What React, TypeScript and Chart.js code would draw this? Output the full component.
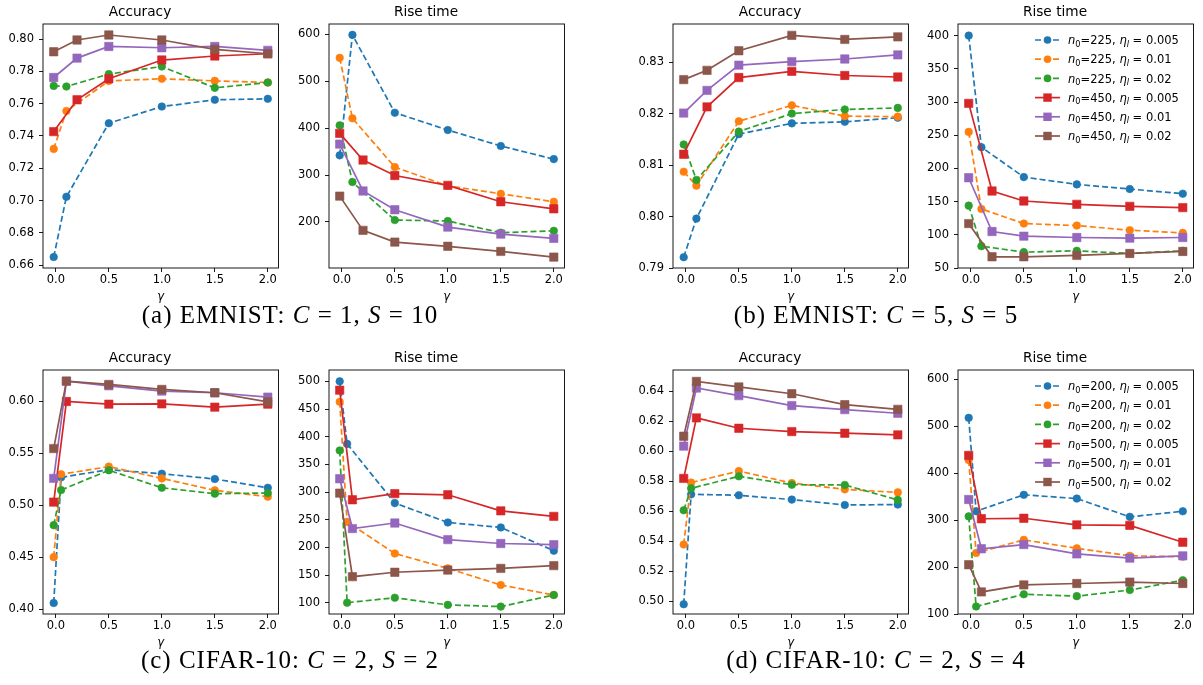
import React, { useEffect, useRef } from "react";
import { Chart, registerables } from "chart.js";
Chart.register(...registerables);

const FONT = "'DejaVu Sans', sans-serif";
const COLORS = ["#1f77b4", "#ff7f0e", "#2ca02c", "#d62728", "#9467bd", "#8c564b"];
const ETA_L = ["0.005", "0.01", "0.02", "0.005", "0.01", "0.02"];
const N0_EMNIST = [225, 225, 225, 450, 450, 450];
const N0_CIFAR = [200, 200, 200, 500, 500, 500];

// gamma values (x positions) for n0 small (circles) and n0 large (squares)
const GAMMA_EMNIST_SMALL = [-0.02, 0.1, 0.5, 1.0, 1.5, 2.0];
const GAMMA_EMNIST_LARGE = [-0.02, 0.2, 0.5, 1.0, 1.5, 2.0];
const GAMMA_CIFAR_SMALL = [-0.02, 0.05, 0.5, 1.0, 1.5, 2.0];
const GAMMA_CIFAR_LARGE = [-0.02, 0.1, 0.5, 1.0, 1.5, 2.0];
const X_TICKS = [0, 0.5, 1.0, 1.5, 2.0];

// (a) EMNIST C=1, S=10
const A_ACC = [
  [0.6651, 0.7024, 0.7479, 0.7582, 0.7624, 0.763],
  [0.732, 0.7555, 0.7741, 0.7754, 0.7741, 0.7731],
  [0.771, 0.7706, 0.7783, 0.783, 0.7698, 0.7731],
  [0.7427, 0.7624, 0.7754, 0.787, 0.7895, 0.7909],
  [0.7762, 0.7882, 0.7954, 0.7946, 0.7954, 0.793],
  [0.7921, 0.7994, 0.8025, 0.7994, 0.7936, 0.7909],
];
const A_RISE = [
  [342, 599, 433, 396, 362, 334],
  [550, 421, 317, 277, 260, 243],
  [406, 285, 204, 202, 177, 181],
  [389, 332, 299, 278, 243, 228],
  [366, 266, 226, 189, 174, 165],
  [255, 182, 157, 148, 137, 125],
];
// (b) EMNIST C=5, S=5
const B_ACC = [
  [0.7921, 0.7996, 0.816, 0.8181, 0.8184, 0.8192],
  [0.8087, 0.806, 0.8185, 0.8216, 0.8195, 0.8194],
  [0.814, 0.8071, 0.8165, 0.82, 0.8208, 0.8211],
  [0.8121, 0.8213, 0.827, 0.8282, 0.8274, 0.8271],
  [0.8201, 0.8245, 0.8294, 0.8301, 0.8306, 0.8314],
  [0.8266, 0.8284, 0.8322, 0.8352, 0.8344, 0.8349],
];
const B_RISE = [
  [400, 232, 187, 176, 169, 162],
  [255, 139, 117, 114, 107, 103],
  [144, 83, 74, 76, 72, 76],
  [298, 166, 151, 146, 143, 141],
  [186, 105, 98, 96, 95, 96],
  [117, 67, 67, 69, 72, 75],
];
// (c) CIFAR-10 C=2, S=2
const C_ACC = [
  [0.4061, 0.527, 0.5344, 0.5305, 0.5254, 0.517],
  [0.4502, 0.53, 0.5373, 0.526, 0.5145, 0.5084],
  [0.481, 0.5148, 0.5338, 0.517, 0.5113, 0.5119],
  [0.5032, 0.6, 0.5974, 0.5977, 0.5945, 0.5974],
  [0.526, 0.6196, 0.6151, 0.61, 0.6084, 0.6042],
  [0.5547, 0.6196, 0.6164, 0.6116, 0.6084, 0.5997],
];
const C_RISE = [
  [500, 387, 280, 245, 236, 194],
  [463, 246, 189, 162, 132, 114],
  [375, 100, 109, 96, 93, 114],
  [484, 286, 297, 295, 266, 256],
  [324, 234, 244, 214, 207, 205],
  [298, 147, 155, 159, 162, 167],
];
// (d) CIFAR-10 C=2, S=4
const D_ACC = [
  [0.498, 0.5712, 0.5706, 0.5677, 0.5641, 0.5644],
  [0.5378, 0.579, 0.5867, 0.5787, 0.5745, 0.5725],
  [0.5606, 0.5752, 0.5832, 0.5776, 0.5774, 0.5675],
  [0.5818, 0.6221, 0.6152, 0.613, 0.6119, 0.6108],
  [0.6033, 0.642, 0.6369, 0.6303, 0.6276, 0.6252],
  [0.6099, 0.6464, 0.6427, 0.6382, 0.6309, 0.6278],
];
const D_RISE = [
  [518, 319, 354, 346, 307, 319],
  [428, 230, 258, 240, 224, 222],
  [308, 116, 142, 138, 151, 172],
  [438, 303, 304, 290, 289, 253],
  [344, 239, 248, 228, 219, 224],
  [205, 147, 162, 165, 168, 165],
];

const TICKS_A_ACC = [0.66, 0.68, 0.7, 0.72, 0.74, 0.76, 0.78, 0.8];
const TICKS_A_RISE = [200, 300, 400, 500, 600];
const TICKS_B_ACC = [0.79, 0.8, 0.81, 0.82, 0.83];
const TICKS_B_RISE = [50, 100, 150, 200, 250, 300, 350, 400];
const TICKS_C_ACC = [0.4, 0.45, 0.5, 0.55, 0.6];
const TICKS_C_RISE = [100, 150, 200, 250, 300, 350, 400, 450, 500];
const TICKS_D_ACC = [0.5, 0.52, 0.54, 0.56, 0.58, 0.6, 0.62, 0.64];
const TICKS_D_RISE = [100, 200, 300, 400, 500, 600];

const YW = 43;
const TITLE_H = 24;
const XH = 36;
const AW = 237;
const AH = 244;
const RP = 5;

type Spec = {
  left: number;
  top: number;
  title: string;
  series: number[][];
  gSmall: number[];
  gLarge: number[];
  yMin: number;
  yMax: number;
  yTicks: number[];
  decimals: number;
  legendN0?: number[];
};

const SPECS: Spec[] = [
  { left: 43, top: 24, title: "Accuracy", series: A_ACC, gSmall: GAMMA_EMNIST_SMALL, gLarge: GAMMA_EMNIST_LARGE, yMin: 0.6583, yMax: 0.8093, yTicks: TICKS_A_ACC, decimals: 2 },
  { left: 329, top: 24, title: "Rise time", series: A_RISE, gSmall: GAMMA_EMNIST_SMALL, gLarge: GAMMA_EMNIST_LARGE, yMin: 101.7, yMax: 622.2, yTicks: TICKS_A_RISE, decimals: 0 },
  { left: 673, top: 24, title: "Accuracy", series: B_ACC, gSmall: GAMMA_EMNIST_SMALL, gLarge: GAMMA_EMNIST_LARGE, yMin: 0.79, yMax: 0.8374, yTicks: TICKS_B_ACC, decimals: 2 },
  { left: 958, top: 24, title: "Rise time", series: B_RISE, gSmall: GAMMA_EMNIST_SMALL, gLarge: GAMMA_EMNIST_LARGE, yMin: 50.1, yMax: 417.5, yTicks: TICKS_B_RISE, decimals: 0, legendN0: N0_EMNIST },
  { left: 43, top: 370, title: "Accuracy", series: C_ACC, gSmall: GAMMA_CIFAR_SMALL, gLarge: GAMMA_CIFAR_LARGE, yMin: 0.3955, yMax: 0.6303, yTicks: TICKS_C_ACC, decimals: 2 },
  { left: 329, top: 370, title: "Rise time", series: C_RISE, gSmall: GAMMA_CIFAR_SMALL, gLarge: GAMMA_CIFAR_LARGE, yMin: 79.6, yMax: 520.5, yTicks: TICKS_C_RISE, decimals: 0 },
  { left: 673, top: 370, title: "Accuracy", series: D_ACC, gSmall: GAMMA_CIFAR_SMALL, gLarge: GAMMA_CIFAR_LARGE, yMin: 0.4915, yMax: 0.654, yTicks: TICKS_D_ACC, decimals: 2 },
  { left: 958, top: 370, title: "Rise time", series: D_RISE, gSmall: GAMMA_CIFAR_SMALL, gLarge: GAMMA_CIFAR_LARGE, yMin: 100, yMax: 620, yTicks: TICKS_D_RISE, decimals: 0, legendN0: N0_CIFAR },
];

const spinePlugin = {
  id: "spines",
  afterDatasetsDraw(chart: any) {
    const { ctx, chartArea: a } = chart;
    ctx.save();
    ctx.strokeStyle = "#000";
    ctx.lineWidth = 0.9;
    ctx.setLineDash([]);
    ctx.strokeRect(a.left, a.top, a.right - a.left, a.bottom - a.top);
    ctx.restore();
  },
};

function drawLegend(chart: any, n0s: number[]) {
  const { ctx, chartArea: a } = chart;
  const base = 11.5;
  const sub = 8.2;
  n0s.forEach((n0, i) => {
    const y = a.top + 16 + i * 19.2;
    const x0 = a.left + 77;
    const x1 = x0 + 25;
    const color = COLORS[i];
    const dashed = i < 3;
    ctx.save();
    ctx.strokeStyle = color;
    ctx.lineWidth = 1.7;
    ctx.setLineDash(dashed ? [6, 3] : []);
    ctx.beginPath();
    ctx.moveTo(x0, y);
    ctx.lineTo(x1, y);
    ctx.stroke();
    ctx.setLineDash([]);
    ctx.fillStyle = color;
    const cx = (x0 + x1) / 2;
    if (dashed) {
      ctx.beginPath();
      ctx.arc(cx, y, 3.8, 0, Math.PI * 2);
      ctx.fill();
    } else {
      ctx.fillRect(cx - 4.2, y - 4.2, 8.4, 8.4);
    }
    ctx.fillStyle = "#000";
    ctx.textBaseline = "alphabetic";
    ctx.textAlign = "left";
    let tx = a.left + 110;
    const by = y + 4.2;
    const segs = [
      { t: "n", f: `italic ${base}px ${FONT}`, dy: 0 },
      { t: "0", f: `${sub}px ${FONT}`, dy: 2.4 },
      { t: `=${n0}, `, f: `${base}px ${FONT}`, dy: 0 },
      { t: "\u03b7", f: `italic ${base}px ${FONT}`, dy: 0 },
      { t: "l", f: `italic ${sub}px ${FONT}`, dy: 2.4 },
      { t: ` = ${ETA_L[i]}`, f: `${base}px ${FONT}`, dy: 0 },
    ];
    segs.forEach((s) => {
      ctx.font = s.f;
      ctx.fillText(s.t, tx, by + s.dy);
      tx += ctx.measureText(s.t).width;
    });
    ctx.restore();
  });
}

function makeConfig(spec: Spec): any {
  const datasets = spec.series.map((vals, i) => {
    const xs = i < 3 ? spec.gSmall : spec.gLarge;
    return {
      label: `series ${i}`,
      data: vals.map((v, j) => ({ x: xs[j], y: v })),
      borderColor: COLORS[i],
      backgroundColor: COLORS[i],
      borderWidth: 1.7,
      borderDash: i < 3 ? [6, 3] : [],
      pointStyle: i < 3 ? "circle" : "rect",
      pointRadius: i < 3 ? 3.8 : 5.9,
      pointBorderWidth: 0.6,
      pointBackgroundColor: COLORS[i],
      pointBorderColor: COLORS[i],
      tension: 0,
      fill: false,
      order: 6 - i,
    };
  });
  const legendPlugin = {
    id: "mplLegend",
    afterDatasetsDraw(chart: any) {
      if (spec.legendN0) drawLegend(chart, spec.legendN0);
    },
  };
  return {
    type: "line",
    data: { datasets },
    plugins: [spinePlugin, legendPlugin],
    options: {
      animation: false,
      responsive: false,
      maintainAspectRatio: false,
      events: [],
      layout: { padding: { left: 0, right: RP, top: 0, bottom: 0 } },
      plugins: {
        legend: { display: false },
        tooltip: { enabled: false },
        title: {
          display: true,
          text: spec.title,
          color: "#000",
          font: { family: FONT, size: 13.7, weight: "normal", lineHeight: 1 },
          padding: { top: 5.6, bottom: 4.7 },
        },
      },
      scales: {
        x: {
          type: "linear",
          min: -0.121,
          max: 2.101,
          afterBuildTicks: (s: any) => {
            s.ticks = X_TICKS.map((v) => ({ value: v }));
          },
          afterFit: (s: any) => {
            s.height = XH;
          },
          ticks: {
            callback: (v: any) => Number(v).toFixed(1),
            color: "#000",
            font: { family: FONT, size: 11.5 },
            padding: 1.5,
            maxRotation: 0,
            autoSkip: false,
          },
          grid: { display: true, drawOnChartArea: false, drawTicks: true, tickLength: 4, color: "#000", lineWidth: 0.9 },
          border: { display: false },
          title: {
            display: true,
            text: "\u03b3",
            color: "#000",
            font: { family: FONT, size: 11.5, style: "italic" },
            padding: 0,
          },
        },
        y: {
          type: "linear",
          min: spec.yMin,
          max: spec.yMax,
          afterBuildTicks: (s: any) => {
            s.ticks = spec.yTicks.map((v) => ({ value: v }));
          },
          afterFit: (s: any) => {
            s.width = YW;
          },
          ticks: {
            callback: (v: any) => Number(v).toFixed(spec.decimals),
            color: "#000",
            font: { family: FONT, size: 11.5 },
            padding: 5,
            autoSkip: false,
          },
          grid: { display: true, drawOnChartArea: false, drawTicks: true, tickLength: 4, color: "#000", lineWidth: 0.9 },
          border: { display: false },
        },
      },
    },
  };
}

function SubPlot({ spec }: { spec: Spec }) {
  const ref = useRef<HTMLCanvasElement | null>(null);
  useEffect(() => {
    if (!ref.current) return;
    const chart = new Chart(ref.current, makeConfig(spec));
    return () => chart.destroy();
  }, [spec]);
  const w = YW + AW + RP;
  const h = TITLE_H + AH + XH;
  return (
    <canvas
      ref={ref}
      width={w}
      height={h}
      style={{ position: "absolute", left: spec.left - YW, top: spec.top - TITLE_H, width: w, height: h }}
    />
  );
}

const CAPTIONS = [
  { cx: 290, top: 301.5, label: "(a) EMNIST:", c: "1", s: "10" },
  { cx: 876, top: 301.5, label: "(b) EMNIST:", c: "5", s: "5" },
  { cx: 290, top: 646.5, label: "(c) CIFAR-10:", c: "2", s: "2" },
  { cx: 876, top: 646.5, label: "(d) CIFAR-10:", c: "2", s: "4" },
];

export default function App() {
  return (
    <div style={{ position: "absolute", left: 0, top: 0, width: 1203, height: 685, background: "#fff", overflow: "hidden" }}>
      {SPECS.map((s, i) => (
        <SubPlot key={i} spec={s} />
      ))}
      {CAPTIONS.map((c, i) => (
        <div
          key={"c" + i}
          style={{
            position: "absolute",
            left: c.cx - 250,
            width: 500,
            top: c.top,
            textAlign: "center",
            fontFamily: "'Liberation Serif', 'Times New Roman', serif",
            fontSize: 25,
            lineHeight: "25px",
            letterSpacing: "1px",
            color: "#000",
            whiteSpace: "nowrap",
          }}
        >
          {c.label} <i>C</i> = {c.c}, <i>S</i> = {c.s}
        </div>
      ))}
    </div>
  );
}
